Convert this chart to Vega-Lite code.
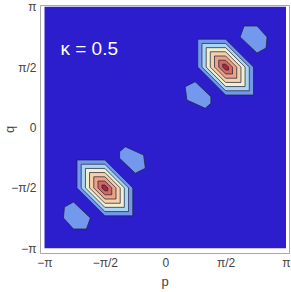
{
  "$schema": "https://vega.github.io/schema/vega-lite/v6.json",
  "width": 249,
  "height": 248,
  "autosize": {"type": "none"},
  "padding": {"left": 40, "top": 5, "right": 2, "bottom": 39},
  "config": {"view": {"stroke": "#a8a8a8", "strokeWidth": 1}},
  "datasets": {
    "bg": [{"p": -1, "p2": 1, "q": -1, "q2": 1}],
    "lab": [{"p": -0.868, "q": 0.65, "t": "κ = 0.5"}],
    "poly": [
      {"g": "U", "l": 1, "i": 0, "p": 0.269, "q": 0.731},
      {"g": "U", "l": 1, "i": 1, "p": 0.5, "q": 0.731},
      {"g": "U", "l": 1, "i": 2, "p": 0.731, "q": 0.5},
      {"g": "U", "l": 1, "i": 3, "p": 0.731, "q": 0.269},
      {"g": "U", "l": 1, "i": 4, "p": 0.5, "q": 0.269},
      {"g": "U", "l": 1, "i": 5, "p": 0.269, "q": 0.5},
      {"g": "L", "l": 1, "i": 0, "p": -0.269, "q": -0.731},
      {"g": "L", "l": 1, "i": 1, "p": -0.5, "q": -0.731},
      {"g": "L", "l": 1, "i": 2, "p": -0.731, "q": -0.5},
      {"g": "L", "l": 1, "i": 3, "p": -0.731, "q": -0.269},
      {"g": "L", "l": 1, "i": 4, "p": -0.5, "q": -0.269},
      {"g": "L", "l": 1, "i": 5, "p": -0.269, "q": -0.5},
      {"g": "A", "l": 1, "i": 0, "p": 0.653, "q": 0.84},
      {"g": "A", "l": 1, "i": 1, "p": 0.76, "q": 0.84},
      {"g": "A", "l": 1, "i": 2, "p": 0.843, "q": 0.749},
      {"g": "A", "l": 1, "i": 3, "p": 0.835, "q": 0.658},
      {"g": "A", "l": 1, "i": 4, "p": 0.76, "q": 0.617},
      {"g": "A", "l": 1, "i": 5, "p": 0.62, "q": 0.749},
      {"g": "B", "l": 1, "i": 0, "p": 0.165, "q": 0.338},
      {"g": "B", "l": 1, "i": 1, "p": 0.248, "q": 0.379},
      {"g": "B", "l": 1, "i": 2, "p": 0.378, "q": 0.255},
      {"g": "B", "l": 1, "i": 3, "p": 0.378, "q": 0.2},
      {"g": "B", "l": 1, "i": 4, "p": 0.331, "q": 0.159},
      {"g": "B", "l": 1, "i": 5, "p": 0.179, "q": 0.228},
      {"g": "C", "l": 1, "i": 0, "p": -0.653, "q": -0.84},
      {"g": "C", "l": 1, "i": 1, "p": -0.76, "q": -0.84},
      {"g": "C", "l": 1, "i": 2, "p": -0.843, "q": -0.749},
      {"g": "C", "l": 1, "i": 3, "p": -0.835, "q": -0.658},
      {"g": "C", "l": 1, "i": 4, "p": -0.76, "q": -0.617},
      {"g": "C", "l": 1, "i": 5, "p": -0.62, "q": -0.749},
      {"g": "D", "l": 1, "i": 0, "p": -0.165, "q": -0.338},
      {"g": "D", "l": 1, "i": 1, "p": -0.248, "q": -0.379},
      {"g": "D", "l": 1, "i": 2, "p": -0.378, "q": -0.255},
      {"g": "D", "l": 1, "i": 3, "p": -0.378, "q": -0.2},
      {"g": "D", "l": 1, "i": 4, "p": -0.331, "q": -0.159},
      {"g": "D", "l": 1, "i": 5, "p": -0.179, "q": -0.228},

      {"g": "U", "l": 2, "i": 0, "p": 0.304, "q": 0.696},
      {"g": "U", "l": 2, "i": 1, "p": 0.5, "q": 0.696},
      {"g": "U", "l": 2, "i": 2, "p": 0.696, "q": 0.5},
      {"g": "U", "l": 2, "i": 3, "p": 0.696, "q": 0.304},
      {"g": "U", "l": 2, "i": 4, "p": 0.5, "q": 0.304},
      {"g": "U", "l": 2, "i": 5, "p": 0.304, "q": 0.5},
      {"g": "L", "l": 2, "i": 0, "p": -0.304, "q": -0.696},
      {"g": "L", "l": 2, "i": 1, "p": -0.5, "q": -0.696},
      {"g": "L", "l": 2, "i": 2, "p": -0.696, "q": -0.5},
      {"g": "L", "l": 2, "i": 3, "p": -0.696, "q": -0.304},
      {"g": "L", "l": 2, "i": 4, "p": -0.5, "q": -0.304},
      {"g": "L", "l": 2, "i": 5, "p": -0.304, "q": -0.5},

      {"g": "U", "l": 3, "i": 0, "p": 0.339, "q": 0.661},
      {"g": "U", "l": 3, "i": 1, "p": 0.5, "q": 0.661},
      {"g": "U", "l": 3, "i": 2, "p": 0.661, "q": 0.5},
      {"g": "U", "l": 3, "i": 3, "p": 0.661, "q": 0.339},
      {"g": "U", "l": 3, "i": 4, "p": 0.5, "q": 0.339},
      {"g": "U", "l": 3, "i": 5, "p": 0.339, "q": 0.5},
      {"g": "L", "l": 3, "i": 0, "p": -0.339, "q": -0.661},
      {"g": "L", "l": 3, "i": 1, "p": -0.5, "q": -0.661},
      {"g": "L", "l": 3, "i": 2, "p": -0.661, "q": -0.5},
      {"g": "L", "l": 3, "i": 3, "p": -0.661, "q": -0.339},
      {"g": "L", "l": 3, "i": 4, "p": -0.5, "q": -0.339},
      {"g": "L", "l": 3, "i": 5, "p": -0.339, "q": -0.5},

      {"g": "U", "l": 4, "i": 0, "p": 0.373, "q": 0.627},
      {"g": "U", "l": 4, "i": 1, "p": 0.5, "q": 0.627},
      {"g": "U", "l": 4, "i": 2, "p": 0.627, "q": 0.5},
      {"g": "U", "l": 4, "i": 3, "p": 0.627, "q": 0.373},
      {"g": "U", "l": 4, "i": 4, "p": 0.5, "q": 0.373},
      {"g": "U", "l": 4, "i": 5, "p": 0.373, "q": 0.5},
      {"g": "L", "l": 4, "i": 0, "p": -0.373, "q": -0.627},
      {"g": "L", "l": 4, "i": 1, "p": -0.5, "q": -0.627},
      {"g": "L", "l": 4, "i": 2, "p": -0.627, "q": -0.5},
      {"g": "L", "l": 4, "i": 3, "p": -0.627, "q": -0.373},
      {"g": "L", "l": 4, "i": 4, "p": -0.5, "q": -0.373},
      {"g": "L", "l": 4, "i": 5, "p": -0.373, "q": -0.5},

      {"g": "U", "l": 5, "i": 0, "p": 0.408, "q": 0.592},
      {"g": "U", "l": 5, "i": 1, "p": 0.5, "q": 0.592},
      {"g": "U", "l": 5, "i": 2, "p": 0.592, "q": 0.5},
      {"g": "U", "l": 5, "i": 3, "p": 0.592, "q": 0.408},
      {"g": "U", "l": 5, "i": 4, "p": 0.5, "q": 0.408},
      {"g": "U", "l": 5, "i": 5, "p": 0.408, "q": 0.5},
      {"g": "L", "l": 5, "i": 0, "p": -0.408, "q": -0.592},
      {"g": "L", "l": 5, "i": 1, "p": -0.5, "q": -0.592},
      {"g": "L", "l": 5, "i": 2, "p": -0.592, "q": -0.5},
      {"g": "L", "l": 5, "i": 3, "p": -0.592, "q": -0.408},
      {"g": "L", "l": 5, "i": 4, "p": -0.5, "q": -0.408},
      {"g": "L", "l": 5, "i": 5, "p": -0.408, "q": -0.5},

      {"g": "U", "l": 6, "i": 0, "p": 0.443, "q": 0.557},
      {"g": "U", "l": 6, "i": 1, "p": 0.5, "q": 0.557},
      {"g": "U", "l": 6, "i": 2, "p": 0.557, "q": 0.5},
      {"g": "U", "l": 6, "i": 3, "p": 0.557, "q": 0.443},
      {"g": "U", "l": 6, "i": 4, "p": 0.5, "q": 0.443},
      {"g": "U", "l": 6, "i": 5, "p": 0.443, "q": 0.5},
      {"g": "L", "l": 6, "i": 0, "p": -0.443, "q": -0.557},
      {"g": "L", "l": 6, "i": 1, "p": -0.5, "q": -0.557},
      {"g": "L", "l": 6, "i": 2, "p": -0.557, "q": -0.5},
      {"g": "L", "l": 6, "i": 3, "p": -0.557, "q": -0.443},
      {"g": "L", "l": 6, "i": 4, "p": -0.5, "q": -0.443},
      {"g": "L", "l": 6, "i": 5, "p": -0.443, "q": -0.5},

      {"g": "U", "l": 7, "i": 0, "p": 0.476, "q": 0.524},
      {"g": "U", "l": 7, "i": 1, "p": 0.5, "q": 0.524},
      {"g": "U", "l": 7, "i": 2, "p": 0.524, "q": 0.5},
      {"g": "U", "l": 7, "i": 3, "p": 0.524, "q": 0.476},
      {"g": "U", "l": 7, "i": 4, "p": 0.5, "q": 0.476},
      {"g": "U", "l": 7, "i": 5, "p": 0.476, "q": 0.5},
      {"g": "L", "l": 7, "i": 0, "p": -0.476, "q": -0.524},
      {"g": "L", "l": 7, "i": 1, "p": -0.5, "q": -0.524},
      {"g": "L", "l": 7, "i": 2, "p": -0.524, "q": -0.5},
      {"g": "L", "l": 7, "i": 3, "p": -0.524, "q": -0.476},
      {"g": "L", "l": 7, "i": 4, "p": -0.5, "q": -0.476},
      {"g": "L", "l": 7, "i": 5, "p": -0.476, "q": -0.5}
    ]
  },
  "encoding": {
    "x": {
      "field": "p", "type": "quantitative",
      "scale": {"domain": [-1.0373, 1.0248], "nice": false, "zero": false},
      "axis": {
        "values": [-1, -0.5, 0, 0.5, 1],
        "labelExpr": "datum.value == -1 ? '−π' : datum.value == -0.5 ? '−π/2' : datum.value == 0 ? '0' : datum.value == 0.5 ? 'π/2' : 'π'",
        "title": "p", "grid": false, "domain": false, "ticks": false,
        "labelPadding": 4, "labelFlush": false, "labelOverlap": false,
        "labelFont": "Liberation Sans", "labelFontSize": 12, "labelColor": "#444444",
        "titleFont": "Liberation Sans", "titleFontSize": 13, "titleFontWeight": "normal", "titleColor": "#444444",
        "titleX": 124.5, "titleY": 32, "titleAlign": "center", "titleBaseline": "alphabetic"
      }
    },
    "y": {
      "field": "q", "type": "quantitative",
      "scale": {"domain": [-1.0389, 1.0141], "nice": false, "zero": false},
      "axis": {
        "values": [-1, -0.5, 0, 0.5, 1],
        "labelExpr": "datum.value == -1 ? '−π' : datum.value == -0.5 ? '−π/2' : datum.value == 0 ? '0' : datum.value == 0.5 ? 'π/2' : 'π'",
        "title": "q", "grid": false, "domain": false, "ticks": false,
        "labelPadding": 4, "labelFlush": false, "labelOverlap": false,
        "labelFont": "Liberation Sans", "labelFontSize": 12, "labelColor": "#444444",
        "titleFont": "Liberation Sans", "titleFontSize": 13, "titleFontWeight": "normal", "titleColor": "#444444",
        "titleX": -31, "titleY": 124, "titleAngle": -90, "titleAlign": "center", "titleBaseline": "middle"
      }
    }
  },
  "layer": [
    {
      "data": {"name": "bg"},
      "mark": {"type": "rect", "fill": "#2c1ecc", "stroke": null},
      "encoding": {"x2": {"field": "p2"}, "y2": {"field": "q2"}}
    },
    {
      "data": {"name": "poly"},
      "transform": [{"filter": "datum.l == 1"}],
      "mark": {"type": "line", "interpolate": "linear-closed", "stroke": "#202040", "strokeWidth": 0.9, "strokeOpacity": 0.8},
      "encoding": {
        "detail": {"field": "g"},
        "order": {"field": "i", "type": "quantitative"},
        "fill": {"field": "l", "type": "ordinal", "scale": {"domain": [1, 2, 3, 4, 5, 6, 7], "range": ["#7399ef", "#acd5f1", "#eef0cf", "#f5d0a8", "#eba383", "#d26a62", "#a92738"]}, "legend": null}
      }
    },
    {
      "data": {"name": "poly"},
      "transform": [{"filter": "datum.l == 2"}],
      "mark": {"type": "line", "interpolate": "linear-closed", "stroke": "#202040", "strokeWidth": 0.9, "strokeOpacity": 0.8},
      "encoding": {
        "detail": {"field": "g"},
        "order": {"field": "i", "type": "quantitative"},
        "fill": {"field": "l", "type": "ordinal", "scale": {"domain": [1, 2, 3, 4, 5, 6, 7], "range": ["#7399ef", "#acd5f1", "#eef0cf", "#f5d0a8", "#eba383", "#d26a62", "#a92738"]}, "legend": null}
      }
    },
    {
      "data": {"name": "poly"},
      "transform": [{"filter": "datum.l == 3"}],
      "mark": {"type": "line", "interpolate": "linear-closed", "stroke": "#202040", "strokeWidth": 0.9, "strokeOpacity": 0.8},
      "encoding": {
        "detail": {"field": "g"},
        "order": {"field": "i", "type": "quantitative"},
        "fill": {"field": "l", "type": "ordinal", "scale": {"domain": [1, 2, 3, 4, 5, 6, 7], "range": ["#7399ef", "#acd5f1", "#eef0cf", "#f5d0a8", "#eba383", "#d26a62", "#a92738"]}, "legend": null}
      }
    },
    {
      "data": {"name": "poly"},
      "transform": [{"filter": "datum.l == 4"}],
      "mark": {"type": "line", "interpolate": "linear-closed", "stroke": "#202040", "strokeWidth": 0.9, "strokeOpacity": 0.8},
      "encoding": {
        "detail": {"field": "g"},
        "order": {"field": "i", "type": "quantitative"},
        "fill": {"field": "l", "type": "ordinal", "scale": {"domain": [1, 2, 3, 4, 5, 6, 7], "range": ["#7399ef", "#acd5f1", "#eef0cf", "#f5d0a8", "#eba383", "#d26a62", "#a92738"]}, "legend": null}
      }
    },
    {
      "data": {"name": "poly"},
      "transform": [{"filter": "datum.l == 5"}],
      "mark": {"type": "line", "interpolate": "linear-closed", "stroke": "#202040", "strokeWidth": 0.9, "strokeOpacity": 0.8},
      "encoding": {
        "detail": {"field": "g"},
        "order": {"field": "i", "type": "quantitative"},
        "fill": {"field": "l", "type": "ordinal", "scale": {"domain": [1, 2, 3, 4, 5, 6, 7], "range": ["#7399ef", "#acd5f1", "#eef0cf", "#f5d0a8", "#eba383", "#d26a62", "#a92738"]}, "legend": null}
      }
    },
    {
      "data": {"name": "poly"},
      "transform": [{"filter": "datum.l == 6"}],
      "mark": {"type": "line", "interpolate": "linear-closed", "stroke": "#202040", "strokeWidth": 0.9, "strokeOpacity": 0.8},
      "encoding": {
        "detail": {"field": "g"},
        "order": {"field": "i", "type": "quantitative"},
        "fill": {"field": "l", "type": "ordinal", "scale": {"domain": [1, 2, 3, 4, 5, 6, 7], "range": ["#7399ef", "#acd5f1", "#eef0cf", "#f5d0a8", "#eba383", "#d26a62", "#a92738"]}, "legend": null}
      }
    },
    {
      "data": {"name": "poly"},
      "transform": [{"filter": "datum.l == 7"}],
      "mark": {"type": "line", "interpolate": "linear-closed", "stroke": "#202040", "strokeWidth": 0.9, "strokeOpacity": 0.8},
      "encoding": {
        "detail": {"field": "g"},
        "order": {"field": "i", "type": "quantitative"},
        "fill": {"field": "l", "type": "ordinal", "scale": {"domain": [1, 2, 3, 4, 5, 6, 7], "range": ["#7399ef", "#acd5f1", "#eef0cf", "#f5d0a8", "#eba383", "#d26a62", "#a92738"]}, "legend": null}
      }
    },
    {
      "data": {"name": "lab"},
      "mark": {"type": "text", "align": "left", "baseline": "middle", "fontSize": 19, "font": "Liberation Sans", "color": "#ffffff"},
      "encoding": {"text": {"field": "t"}}
    }
  ]
}
